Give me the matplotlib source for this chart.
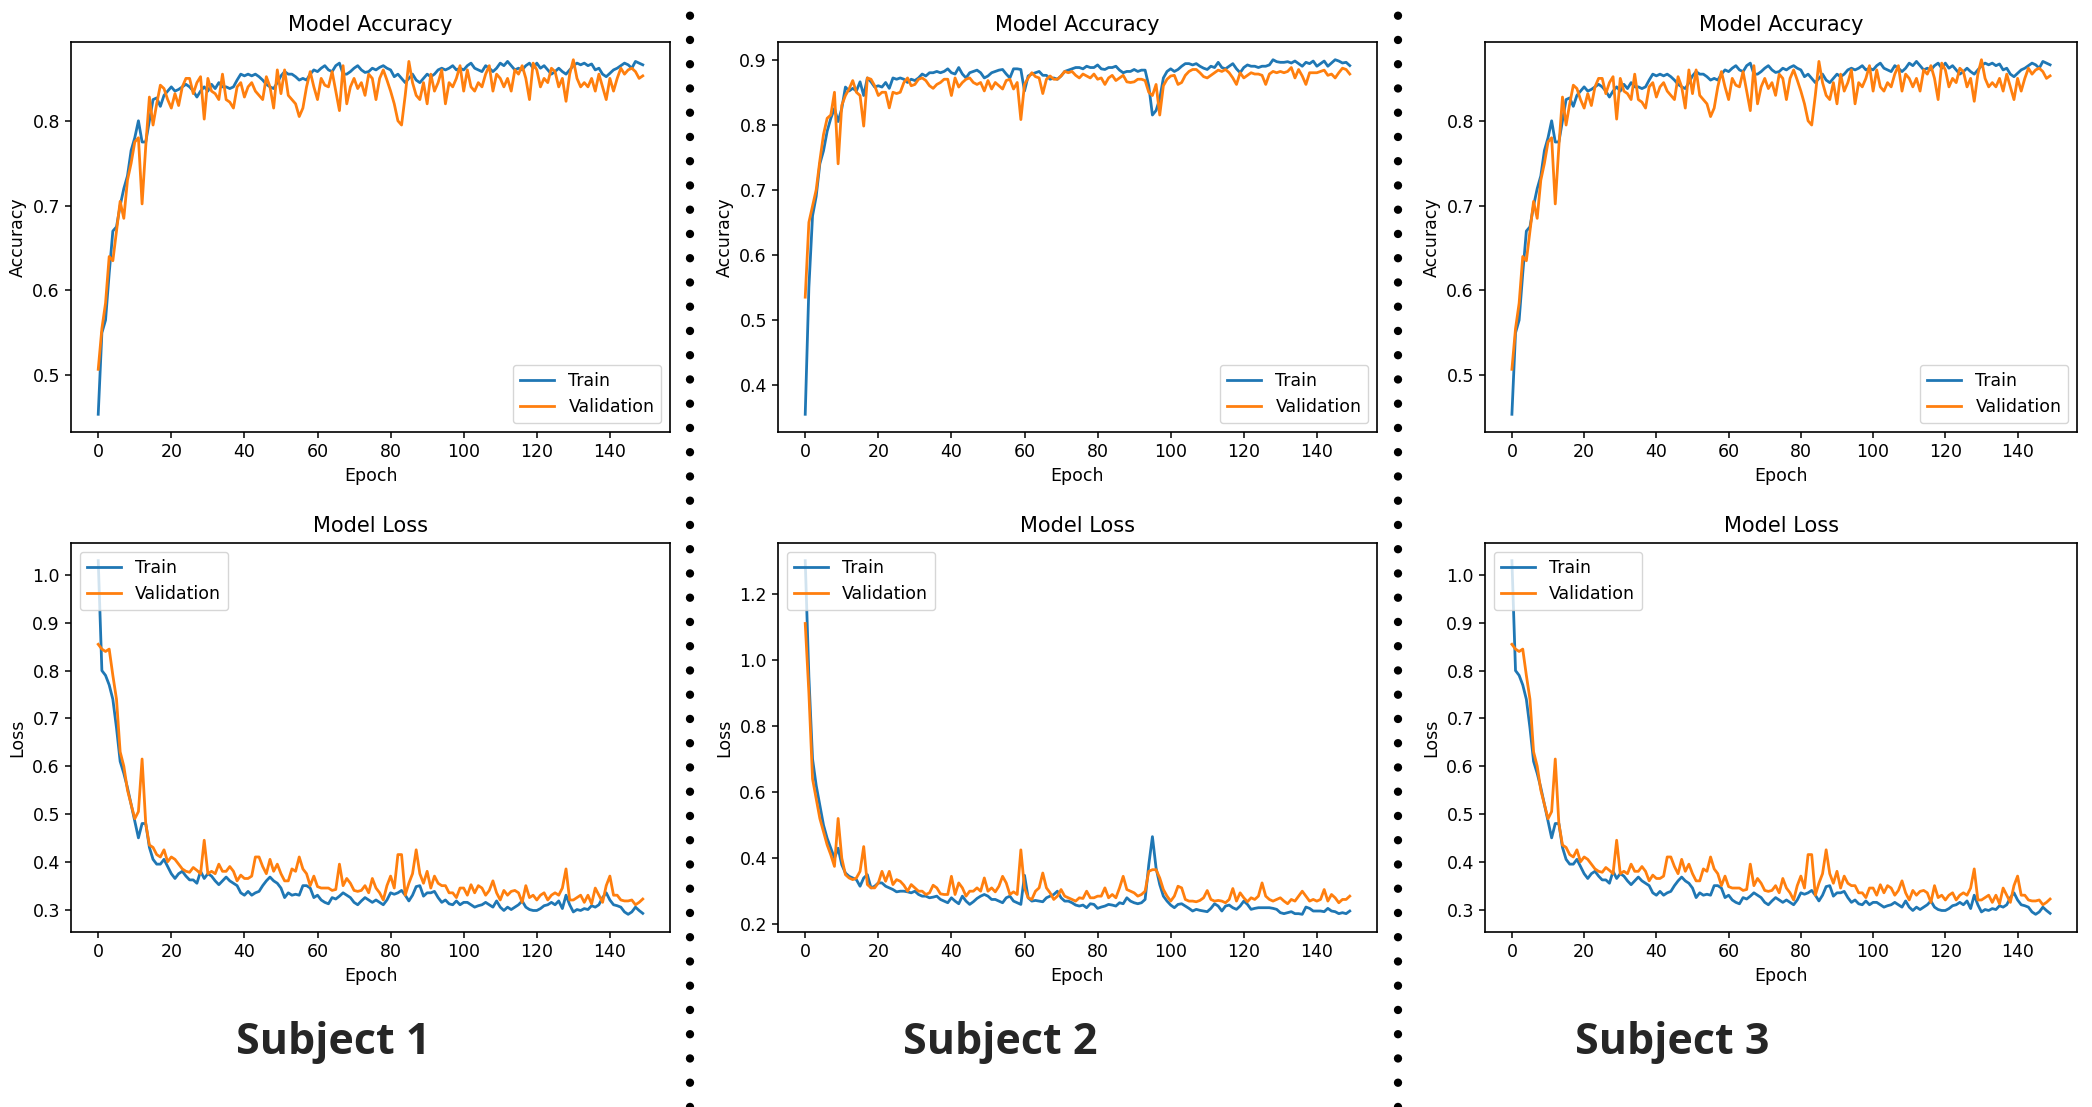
import numpy as np
import matplotlib
matplotlib.use('Agg')
import matplotlib.pyplot as plt
from matplotlib.lines import Line2D

# ---- data (150 epochs each) ----
epochs = list(range(150))

s1_acc_train = [0.454, 0.55, 0.565, 0.62, 0.67, 0.675, 0.70, 0.72, 0.735, 0.765,
                0.78, 0.80, 0.775, 0.775, 0.80, 0.825, 0.827, 0.817, 0.83, 0.835,
                0.84, 0.835, 0.837, 0.84, 0.843, 0.84, 0.835, 0.828, 0.835, 0.84,
                0.835, 0.843, 0.838, 0.845, 0.84, 0.84, 0.838, 0.84, 0.848, 0.855,
                0.853, 0.855, 0.853, 0.855, 0.852, 0.848, 0.843, 0.84, 0.838, 0.845,
                0.853, 0.858, 0.855, 0.855, 0.852, 0.848, 0.85, 0.848, 0.855, 0.86,
                0.858, 0.862, 0.865, 0.86, 0.858, 0.865, 0.868, 0.855, 0.855, 0.858,
                0.862, 0.865, 0.86, 0.857, 0.858, 0.862, 0.86, 0.863, 0.865, 0.862,
                0.86, 0.852, 0.855, 0.85, 0.845, 0.85, 0.855, 0.848, 0.845, 0.85,
                0.855, 0.852, 0.855, 0.86, 0.862, 0.86, 0.862, 0.865, 0.86, 0.862,
                0.86, 0.865, 0.868, 0.862, 0.86, 0.858, 0.865, 0.862, 0.858, 0.862,
                0.868, 0.865, 0.87, 0.865, 0.86, 0.862, 0.86, 0.865, 0.868, 0.862,
                0.868, 0.862, 0.865, 0.86, 0.855, 0.858, 0.862, 0.858, 0.855, 0.86,
                0.865, 0.868, 0.866, 0.868, 0.865, 0.867, 0.86, 0.862, 0.855, 0.852,
                0.856, 0.86, 0.862, 0.865, 0.868, 0.866, 0.862, 0.87, 0.868, 0.866]
s1_acc_val = [0.507, 0.555, 0.585, 0.64, 0.635, 0.67, 0.705, 0.685, 0.73, 0.75,
              0.775, 0.78, 0.702, 0.77, 0.828, 0.795, 0.82, 0.842, 0.838, 0.825,
              0.815, 0.832, 0.818, 0.84, 0.85, 0.85, 0.832, 0.845, 0.852, 0.802,
              0.85, 0.835, 0.832, 0.825, 0.855, 0.825, 0.822, 0.815, 0.84, 0.845,
              0.828, 0.84, 0.845, 0.835, 0.83, 0.825, 0.852, 0.84, 0.815, 0.86,
              0.832, 0.86, 0.83, 0.825, 0.82, 0.805, 0.815, 0.84, 0.858, 0.84,
              0.825, 0.85, 0.842, 0.84, 0.858, 0.835, 0.812, 0.865, 0.82, 0.84,
              0.85, 0.838, 0.845, 0.83, 0.855, 0.85, 0.825, 0.85, 0.86, 0.848,
              0.835, 0.82, 0.80, 0.795, 0.83, 0.87, 0.845, 0.83, 0.825, 0.845,
              0.82, 0.855, 0.835, 0.845, 0.86, 0.82, 0.845, 0.84, 0.85, 0.865,
              0.835, 0.86, 0.84, 0.835, 0.845, 0.84, 0.855, 0.865, 0.835, 0.855,
              0.85, 0.84, 0.85, 0.835, 0.86, 0.855, 0.865, 0.85, 0.825, 0.868,
              0.86, 0.84, 0.85, 0.845, 0.862, 0.858, 0.84, 0.85, 0.823, 0.855,
              0.872, 0.85, 0.84, 0.845, 0.84, 0.85, 0.835, 0.855, 0.84, 0.825,
              0.85, 0.835, 0.85, 0.862, 0.855, 0.86, 0.862, 0.858, 0.85, 0.853]
s1_loss_train = [1.03, 0.80, 0.79, 0.77, 0.74, 0.68, 0.61, 0.585, 0.555, 0.52,
                 0.485, 0.45, 0.48, 0.48, 0.43, 0.405, 0.395, 0.395, 0.405, 0.39,
                 0.375, 0.365, 0.375, 0.38, 0.37, 0.362, 0.362, 0.355, 0.38, 0.365,
                 0.375, 0.37, 0.36, 0.352, 0.36, 0.368, 0.36, 0.355, 0.35, 0.335,
                 0.33, 0.338, 0.33, 0.335, 0.338, 0.35, 0.36, 0.368, 0.36, 0.355,
                 0.345, 0.325, 0.335, 0.33, 0.332, 0.33, 0.35, 0.35, 0.345, 0.325,
                 0.33, 0.32, 0.315, 0.312, 0.325, 0.322, 0.328, 0.335, 0.33, 0.325,
                 0.315, 0.31, 0.318, 0.325, 0.32, 0.315, 0.32, 0.315, 0.31, 0.32,
                 0.335, 0.332, 0.335, 0.34, 0.33, 0.318, 0.33, 0.348, 0.35, 0.328,
                 0.335, 0.335, 0.338, 0.325, 0.315, 0.32, 0.312, 0.31, 0.318, 0.31,
                 0.315, 0.315, 0.31, 0.305, 0.308, 0.31, 0.315, 0.31, 0.305, 0.318,
                 0.305, 0.298, 0.305, 0.30, 0.305, 0.31, 0.318, 0.305, 0.30, 0.298,
                 0.298, 0.302, 0.308, 0.31, 0.315, 0.31, 0.318, 0.302, 0.33, 0.31,
                 0.295, 0.30, 0.298, 0.302, 0.30, 0.308, 0.305, 0.31, 0.325, 0.335,
                 0.32, 0.31, 0.308, 0.305, 0.295, 0.29, 0.295, 0.305, 0.298, 0.292]
s1_loss_val = [0.855, 0.845, 0.84, 0.845, 0.79, 0.74, 0.63, 0.60, 0.55, 0.52,
               0.49, 0.505, 0.615, 0.48, 0.435, 0.43, 0.415, 0.41, 0.425, 0.40,
               0.41, 0.405, 0.395, 0.385, 0.38, 0.378, 0.388, 0.382, 0.375, 0.445,
               0.375, 0.38, 0.375, 0.395, 0.38, 0.38, 0.39, 0.38, 0.36, 0.372,
               0.365, 0.365, 0.37, 0.41, 0.41, 0.39, 0.375, 0.405, 0.38, 0.395,
               0.375, 0.36, 0.36, 0.385, 0.38, 0.41, 0.385, 0.375, 0.35, 0.37,
               0.348, 0.345, 0.345, 0.345, 0.34, 0.342, 0.395, 0.35, 0.365, 0.355,
               0.34, 0.338, 0.34, 0.35, 0.335, 0.365, 0.345, 0.335, 0.32, 0.35,
               0.37, 0.345, 0.415, 0.415, 0.33, 0.355, 0.375, 0.425, 0.375, 0.355,
               0.38, 0.345, 0.37, 0.355, 0.35, 0.35, 0.335, 0.335, 0.325, 0.345,
               0.345, 0.33, 0.352, 0.335, 0.35, 0.345, 0.33, 0.34, 0.36, 0.335,
               0.32, 0.34, 0.33, 0.338, 0.34, 0.335, 0.315, 0.35, 0.325, 0.33,
               0.32, 0.33, 0.335, 0.32, 0.33, 0.335, 0.33, 0.345, 0.385, 0.32,
               0.32, 0.325, 0.33, 0.315, 0.33, 0.312, 0.345, 0.33, 0.315, 0.35,
               0.37, 0.33, 0.33, 0.32, 0.318, 0.318, 0.32, 0.31, 0.315, 0.322]

s2_acc_train = [0.355, 0.55, 0.66, 0.69, 0.74, 0.76, 0.79, 0.81, 0.825, 0.805,
                0.825, 0.858, 0.852, 0.856, 0.852, 0.866, 0.845, 0.872, 0.866, 0.858,
                0.86, 0.858, 0.865, 0.856, 0.872, 0.87, 0.872, 0.87, 0.865, 0.87,
                0.868, 0.872, 0.878, 0.875, 0.88, 0.88, 0.882, 0.88, 0.882, 0.886,
                0.88, 0.878, 0.888, 0.878, 0.872, 0.88, 0.882, 0.884, 0.88, 0.872,
                0.875, 0.88, 0.882, 0.884, 0.885, 0.878, 0.872, 0.886, 0.886, 0.885,
                0.852, 0.875, 0.878, 0.88, 0.882, 0.876, 0.876, 0.87, 0.872, 0.87,
                0.875, 0.882, 0.884, 0.886, 0.888, 0.888, 0.886, 0.89, 0.888, 0.888,
                0.892, 0.886, 0.885, 0.888, 0.888, 0.89, 0.884, 0.88, 0.882, 0.882,
                0.885, 0.882, 0.884, 0.884, 0.86, 0.815, 0.822, 0.84, 0.872, 0.882,
                0.886, 0.882, 0.885, 0.89, 0.894, 0.894, 0.892, 0.894, 0.89, 0.887,
                0.885, 0.89, 0.888, 0.896, 0.888, 0.886, 0.89, 0.894, 0.886, 0.88,
                0.888, 0.892, 0.89, 0.89, 0.888, 0.89, 0.89, 0.892, 0.90, 0.897,
                0.896, 0.896, 0.897, 0.895, 0.898, 0.894, 0.89, 0.896, 0.894, 0.898,
                0.89, 0.894, 0.898, 0.89, 0.895, 0.90, 0.898, 0.895, 0.896, 0.891]
s2_acc_val = [0.535, 0.65, 0.675, 0.70, 0.745, 0.785, 0.81, 0.815, 0.85, 0.74,
              0.83, 0.845, 0.855, 0.868, 0.85, 0.845, 0.798, 0.872, 0.87, 0.86,
              0.845, 0.85, 0.85, 0.826, 0.85, 0.848, 0.85, 0.865, 0.872, 0.86,
              0.862, 0.87, 0.872, 0.868, 0.86, 0.856, 0.862, 0.865, 0.87, 0.87,
              0.845, 0.872, 0.858, 0.865, 0.87, 0.872, 0.865, 0.862, 0.865, 0.852,
              0.868, 0.855, 0.865, 0.86, 0.855, 0.868, 0.87, 0.855, 0.865, 0.808,
              0.862, 0.872, 0.88, 0.874, 0.872, 0.848, 0.87, 0.875, 0.87, 0.87,
              0.875, 0.882, 0.88, 0.882, 0.876, 0.872, 0.878, 0.875, 0.872, 0.878,
              0.87, 0.872, 0.862, 0.872, 0.876, 0.868, 0.872, 0.876, 0.866, 0.865,
              0.866, 0.87, 0.87, 0.868, 0.85, 0.845, 0.862, 0.815, 0.86, 0.87,
              0.875, 0.876, 0.862, 0.865, 0.876, 0.882, 0.885, 0.885, 0.88, 0.874,
              0.872, 0.876, 0.88, 0.884, 0.882, 0.885, 0.88, 0.872, 0.862, 0.88,
              0.872, 0.876, 0.88, 0.878, 0.878, 0.876, 0.862, 0.878, 0.882, 0.88,
              0.882, 0.88, 0.882, 0.888, 0.872, 0.885, 0.875, 0.862, 0.88, 0.88,
              0.88, 0.882, 0.884, 0.876, 0.878, 0.872, 0.88, 0.887, 0.885, 0.878]
s2_loss_train = [1.30, 0.95, 0.70, 0.62, 0.56, 0.50, 0.46, 0.43, 0.40, 0.43,
                 0.38, 0.355, 0.345, 0.34, 0.335, 0.315, 0.34, 0.35, 0.31, 0.315,
                 0.325, 0.325, 0.315, 0.31, 0.305, 0.298, 0.30, 0.30, 0.298, 0.295,
                 0.30, 0.29, 0.285, 0.285, 0.28, 0.282, 0.285, 0.275, 0.27, 0.265,
                 0.28, 0.27, 0.262, 0.285, 0.27, 0.26, 0.268, 0.278, 0.285, 0.29,
                 0.285, 0.275, 0.275, 0.27, 0.265, 0.28, 0.285, 0.27, 0.265, 0.26,
                 0.348, 0.28, 0.27, 0.272, 0.27, 0.268, 0.28, 0.285, 0.29, 0.30,
                 0.28, 0.27, 0.27, 0.265, 0.258, 0.255, 0.258, 0.25, 0.262, 0.26,
                 0.248, 0.252, 0.255, 0.26, 0.258, 0.255, 0.265, 0.262, 0.28, 0.27,
                 0.265, 0.262, 0.265, 0.275, 0.38, 0.465, 0.37, 0.32, 0.285, 0.27,
                 0.258, 0.25, 0.26, 0.262, 0.255, 0.248, 0.24, 0.245, 0.242, 0.24,
                 0.238, 0.248, 0.262, 0.255, 0.24, 0.255, 0.258, 0.25, 0.245, 0.255,
                 0.27, 0.26, 0.245, 0.248, 0.25, 0.25, 0.25, 0.25, 0.248, 0.245,
                 0.235, 0.232, 0.235, 0.238, 0.232, 0.232, 0.23, 0.252, 0.248, 0.24,
                 0.24, 0.24, 0.238, 0.248, 0.24, 0.238, 0.232, 0.235, 0.232, 0.24]
s2_loss_val = [1.11, 0.90, 0.64, 0.58, 0.52, 0.48, 0.44, 0.41, 0.375, 0.52,
               0.40, 0.35, 0.34, 0.335, 0.34, 0.36, 0.435, 0.32, 0.31, 0.31,
               0.325, 0.36, 0.33, 0.36, 0.32, 0.335, 0.33, 0.318, 0.30, 0.32,
               0.31, 0.30, 0.30, 0.29, 0.295, 0.318, 0.31, 0.292, 0.29, 0.29,
               0.345, 0.29, 0.325, 0.31, 0.285, 0.30, 0.30, 0.31, 0.30, 0.34,
               0.30, 0.31, 0.298, 0.315, 0.345, 0.325, 0.29, 0.298, 0.29, 0.425,
               0.31, 0.28, 0.275, 0.30, 0.31, 0.355, 0.31, 0.295, 0.275, 0.285,
               0.305, 0.285, 0.28, 0.275, 0.27, 0.28, 0.278, 0.30, 0.28, 0.28,
               0.285, 0.285, 0.31, 0.28, 0.29, 0.28, 0.31, 0.345, 0.305, 0.30,
               0.295, 0.285, 0.29, 0.30, 0.36, 0.365, 0.365, 0.34, 0.305, 0.285,
               0.27, 0.285, 0.315, 0.31, 0.275, 0.27, 0.27, 0.268, 0.272, 0.28,
               0.302, 0.275, 0.27, 0.272, 0.27, 0.265, 0.275, 0.308, 0.27, 0.295,
               0.28, 0.268, 0.28, 0.275, 0.285, 0.325, 0.285, 0.275, 0.27, 0.275,
               0.28, 0.27, 0.262, 0.275, 0.27, 0.285, 0.30, 0.285, 0.27, 0.275,
               0.27, 0.275, 0.305, 0.27, 0.29, 0.28, 0.265, 0.275, 0.275, 0.285]

# subject 3 shows the same curves as subject 1
s3_acc_train = list(s1_acc_train)
s3_acc_val = list(s1_acc_val)
s3_loss_train = list(s1_loss_train)
s3_loss_val = list(s1_loss_val)

subjects = ['Subject 1', 'Subject 2', 'Subject 3']

# ---- styling ----
plt.rcParams['font.family'] = ['DejaVu Sans']
plt.rcParams['font.size'] = 12.5
plt.rcParams['axes.linewidth'] = 1.2
plt.rcParams['xtick.major.width'] = 1.1
plt.rcParams['ytick.major.width'] = 1.1
plt.rcParams['xtick.major.size'] = 4.5
plt.rcParams['ytick.major.size'] = 4.5

W, H = 2092, 1107
fig = plt.figure(figsize=(W / 100, H / 100), dpi=100)

def box(x0, y0, x1, y1):
    # pixel box (top-left origin) -> figure fraction
    return [x0 / W, 1 - y1 / H, (x1 - x0) / W, (y1 - y0) / H]

col_x = [(71, 670), (778, 1377), (1485, 2077)]
caption_x = [333, 1000, 1672]
acc_y = (42, 432)
loss_y = (543, 932)

data = [
    (s1_acc_train, s1_acc_val, s1_loss_train, s1_loss_val),
    (s2_acc_train, s2_acc_val, s2_loss_train, s2_loss_val),
    (s3_acc_train, s3_acc_val, s3_loss_train, s3_loss_val),
]

blue = '#1f77b4'
orange = '#ff7f0e'

for (x0, x1), cx, (a_tr, a_va, l_tr, l_va), name in zip(col_x, caption_x, data, subjects):
    ax1 = fig.add_axes(box(x0, acc_y[0], x1, acc_y[1]))
    ax1.plot(epochs, a_tr, color=blue, lw=2.0, label='Train')
    ax1.plot(epochs, a_va, color=orange, lw=2.0, label='Validation')
    ax1.set_title('Model Accuracy', fontsize=15, pad=8)
    ax1.set_xlabel('Epoch', fontsize=12.5)
    ax1.set_ylabel('Accuracy', fontsize=12.5)
    ax1.legend(loc='lower right', fontsize=12.5)

    ax2 = fig.add_axes(box(x0, loss_y[0], x1, loss_y[1]))
    ax2.plot(epochs, l_tr, color=blue, lw=2.0, label='Train')
    ax2.plot(epochs, l_va, color=orange, lw=2.0, label='Validation')
    ax2.set_title('Model Loss', fontsize=15, pad=8)
    ax2.set_xlabel('Epoch', fontsize=12.5)
    ax2.set_ylabel('Loss', fontsize=12.5)
    ax2.legend(loc='upper left', fontsize=12.5)

    # subject caption under each column
    fig.text(cx / W, 1 - 1043 / H, name, ha='center', va='center',
             fontsize=31, fontweight='bold', family=['Open Sans', 'DejaVu Sans'],
             color='#262626')

# dotted separators between the columns
for sx in (690, 1398):
    fig.add_artist(Line2D([sx / W, sx / W], [0.0, 1.0], transform=fig.transFigure,
                          color='black', lw=6, linestyle=(0, (0.01, 2.9)),
                          dash_capstyle='round'))

fig.savefig('out.png', dpi=100)
